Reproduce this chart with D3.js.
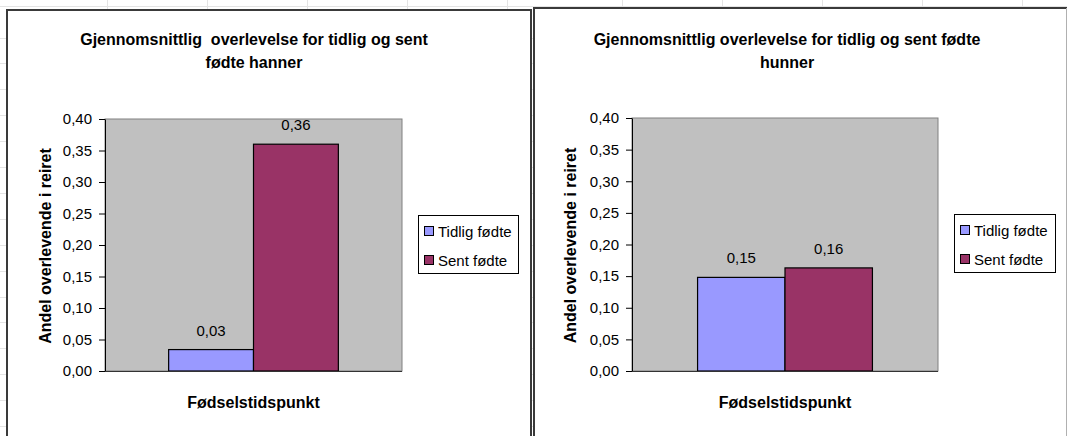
<!DOCTYPE html>
<html>
<head>
<meta charset="utf-8">
<script src="https://cdn.jsdelivr.net/npm/d3@7"></script>
<style>
  html, body { margin: 0; padding: 0; background: #ffffff; }
  svg { display: block; }
  text { font-family: "Liberation Sans", Arial, sans-serif; fill: #000; }
</style>
</head>
<body>
<svg id="sheet" width="1067" height="436"></svg>
<script>
// Series and values
const seriesNames = ["Tidlig fødte", "Sent fødte"];
const seriesColors = ["#9999ff", "#993366"];
const hannerValues = [0.034, 0.36];
const hunnerValues = [0.148, 0.163];
const yTickValues = [0, 0.05, 0.10, 0.15, 0.20, 0.25, 0.30, 0.35, 0.40];
const hannerTitle = ["Gjennomsnittlig  overlevelse for tidlig og sent", "fødte hanner"];
const hunnerTitle = ["Gjennomsnittlig overlevelse for tidlig og sent fødte", "hunner"];
const yAxisTitle = "Andel overlevende i reiret";
const xAxisTitle = "Fødselstidspunkt";

const nb = d3.formatLocale({ decimal: ",", thousands: " ", grouping: [3], currency: ["", " kr"] });
const fmt = nb.format(".2f");

const svg = d3.select("#sheet");

// Worksheet cell grid behind the charts
const grid = svg.append("g").attr("stroke", "#e4e4e4").attr("stroke-width", 1);
[107, 207, 307, 407, 507, 622, 722, 822, 922, 1022].forEach(x =>
  grid.append("line").attr("x1", x + 0.5).attr("x2", x + 0.5).attr("y1", 0).attr("y2", 436));
grid.append("line").attr("x1", 0).attr("x2", 1067).attr("y1", 6.5).attr("y2", 6.5);
for (let y = 37.5; y < 436; y += 25.9) {
  grid.append("line").attr("x1", 0).attr("x2", 1067).attr("y1", Math.round(y) + 0.5).attr("y2", Math.round(y) + 0.5);
}

function drawChart(cfg) {
  const g = svg.append("g");

  // Chart area
  g.append("rect")
    .attr("x", cfg.box[0]).attr("y", cfg.box[1])
    .attr("width", cfg.box[2]).attr("height", cfg.box[3])
    .attr("fill", "#fff").attr("stroke", "#3a3a3a").attr("stroke-width", 2);

  // Title
  const title = g.append("text")
    .attr("text-anchor", "middle")
    .attr("font-size", 16).attr("font-weight", "bold")
    .style("white-space", "pre");
  cfg.title.forEach((line, i) => {
    title.append("tspan").attr("x", cfg.titleX).attr("y", 45 + i * 22.5).text(line);
  });

  const y = d3.scaleLinear().domain([0, 0.40]).range([cfg.plot.bottom, cfg.plot.top]);
  const x = d3.scaleBand().domain(seriesNames)
    .range([cfg.plot.left, cfg.plot.right])
    .paddingInner(0).paddingOuter(0.75);

  // Plot area
  g.append("rect")
    .attr("x", cfg.plot.left).attr("y", cfg.plot.top)
    .attr("width", cfg.plot.right - cfg.plot.left)
    .attr("height", cfg.plot.bottom - cfg.plot.top)
    .attr("fill", "#c0c0c0").attr("stroke", "#808080").attr("stroke-width", 1);

  // Bars
  g.selectAll("rect.bar").data(cfg.values).join("rect")
    .attr("class", "bar")
    .attr("x", (d, i) => x(seriesNames[i]))
    .attr("width", x.bandwidth())
    .attr("y", d => y(d))
    .attr("height", d => y(0) - y(d))
    .attr("fill", (d, i) => seriesColors[i])
    .attr("stroke", "#000").attr("stroke-width", 1.2);

  // Value labels
  g.selectAll("text.val").data(cfg.values).join("text")
    .attr("class", "val")
    .attr("x", (d, i) => x(seriesNames[i]) + x.bandwidth() / 2)
    .attr("y", d => y(d) - 14)
    .attr("text-anchor", "middle")
    .attr("font-size", 15)
    .text(d => fmt(d));

  // Y axis
  const axis = g.append("g")
    .attr("transform", `translate(${cfg.plot.left},0)`)
    .call(d3.axisLeft(y).tickValues(yTickValues).tickFormat(fmt).tickSize(6).tickSizeOuter(0).tickPadding(7));
  axis.selectAll("text").attr("font-size", 15).style("font-family", "'Liberation Sans', Arial, sans-serif");
  axis.selectAll("line, path").attr("stroke", "#000");

  // X axis line
  g.append("line")
    .attr("x1", cfg.plot.left).attr("x2", cfg.plot.right)
    .attr("y1", y(0) + 0.5).attr("y2", y(0) + 0.5)
    .attr("stroke", "#333");

  // Axis titles
  g.append("text")
    .attr("transform", `translate(${cfg.yTitleX},${(cfg.plot.top + cfg.plot.bottom) / 2 + 1}) rotate(-90)`)
    .attr("text-anchor", "middle")
    .attr("font-size", 16).attr("font-weight", "bold")
    .text(yAxisTitle);

  g.append("text")
    .attr("x", (cfg.plot.left + cfg.plot.right) / 2)
    .attr("y", 408)
    .attr("text-anchor", "middle")
    .attr("font-size", 16).attr("font-weight", "bold")
    .text(xAxisTitle);

  // Legend
  const lg = g.append("g").attr("transform", `translate(${cfg.legend[0]},${cfg.legend[1]})`);
  lg.append("rect").attr("x", 0.5).attr("y", 0.5).attr("width", cfg.legend[2]).attr("height", 58)
    .attr("fill", "#fff").attr("stroke", "#000");
  const items = lg.selectAll("g").data(seriesNames).join("g")
    .attr("transform", (d, i) => `translate(0,${16 + i * 29})`);
  items.append("rect").attr("x", 6.5).attr("y", -4.5).attr("width", 9).attr("height", 9)
    .attr("fill", (d, i) => seriesColors[i]).attr("stroke", "#000");
  items.append("text").attr("x", 20).attr("y", 5.5).attr("font-size", 15).text(d => d);
}

drawChart({
  box: [7, 10, 524, 440],
  title: hannerTitle, titleX: 254,
  plot: { left: 105, right: 402, top: 119, bottom: 371 },
  values: hannerValues,
  yTitleX: 51,
  legend: [418, 215, 100]
});

drawChart({
  box: [534, 8, 540, 440],
  title: hunnerTitle, titleX: 787,
  plot: { left: 632, right: 938, top: 118, bottom: 371 },
  values: hunnerValues,
  yTitleX: 576,
  legend: [954, 214, 101]
});

// Right edge of the sheet view
svg.append("line").attr("x1", 1066.5).attr("x2", 1066.5).attr("y1", 8).attr("y2", 436)
  .attr("stroke", "#b0b0b0");
</script>
</body>
</html>
